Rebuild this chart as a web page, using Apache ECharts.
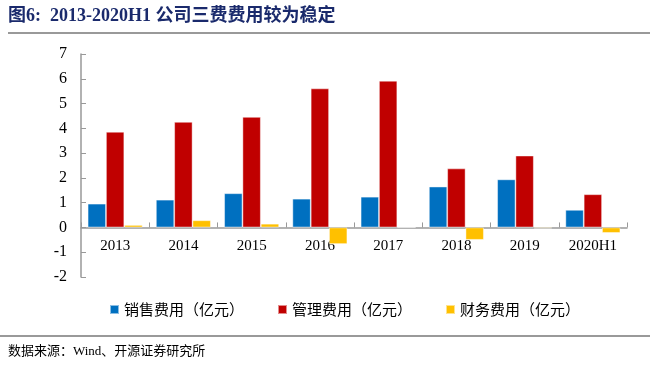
<!DOCTYPE html>
<html><head><meta charset="utf-8">
<script src="https://cdn.jsdelivr.net/npm/echarts@6/dist/echarts.min.js"></script>
<style>html,body{margin:0;padding:0;background:#fff}#c{width:650px;height:365px}</style>
</head><body><div id="c"></div>
<script>
const categories = ['2013','2014','2015','2016','2017','2018','2019','2020H1'];
const salesExp = [0.96, 1.12, 1.38, 1.16, 1.24, 1.65, 1.94, 0.71];
const adminExp = [3.86, 4.26, 4.46, 5.61, 5.92, 2.38, 2.90, 1.34];
const finExp = [0.10, 0.29, 0.15, -0.67, 0.00, -0.50, -0.04, -0.22];
const seriesNames = ['销售费用（亿元）','管理费用（亿元）','财务费用（亿元）'];
const colors = ['#0070C0','#C00000','#FFC000'];
const yMin = -2, yMax = 7, yStep = 1;

const serif = '"Liberation Serif","Times New Roman","Noto Sans CJK SC",serif';
const chart = echarts.init(document.getElementById('c'));
const mk = (name, data, color) => ({
  name, type: 'bar', data, barGap: '0%', barCategoryGap: '19.5%',
  itemStyle: { color, borderColor: 'rgba(255,255,255,0.55)', borderWidth: 0.8 },
  emphasis: { disabled: true }
});
chart.setOption({
  animation: false,
  color: colors,
  grid: { left: 81, right: 23, top: 54, bottom: 88 },
  xAxis: {
    type: 'category', data: categories,
    axisLine: { onZero: true, lineStyle: { color: '#999', width: 1.5 } },
    axisTick: { show: true, inside: true, length: 5, lineStyle: { color: '#999' } },
    axisLabel: { color: '#000', fontFamily: serif, fontSize: 15, margin: -38 }
  },
  yAxis: {
    type: 'value', min: yMin, max: yMax, interval: yStep,
    splitLine: { show: false },
    axisLine: { show: true, lineStyle: { color: '#999', width: 1.5 } },
    axisTick: { show: true, inside: true, length: 5, lineStyle: { color: '#999' } },
    axisLabel: { color: '#000', fontFamily: serif, fontSize: 16, margin: 14 }
  },
  legend: {
    left: 104, top: 297, itemWidth: 9, itemHeight: 9, itemGap: 33, icon: 'rect',
    textStyle: { fontFamily: '"Noto Sans CJK SC",sans-serif', fontSize: 15, color: '#000' },
    data: seriesNames
  },
  series: [mk(seriesNames[0], salesExp, colors[0]), mk(seriesNames[1], adminExp, colors[1]), mk(seriesNames[2], finExp, colors[2])],
  graphic: [
    { type: 'text', left: 8, top: 7, style: { text: '图6:  2013-2020H1 公司三费费用较为稳定', fill: '#1A2A6C', font: 'bold 18px ' + serif } },
    { type: 'rect', shape: { x: 8, y: 32, width: 642, height: 2 }, style: { fill: '#999' } },
    { type: 'rect', shape: { x: 0, y: 335, width: 650, height: 2 }, style: { fill: '#999' } },
    { type: 'text', left: 8, top: 345, style: { text: '数据来源：Wind、开源证券研究所', fill: '#000', font: '13px ' + serif } }
  ]
});
</script></body></html>
